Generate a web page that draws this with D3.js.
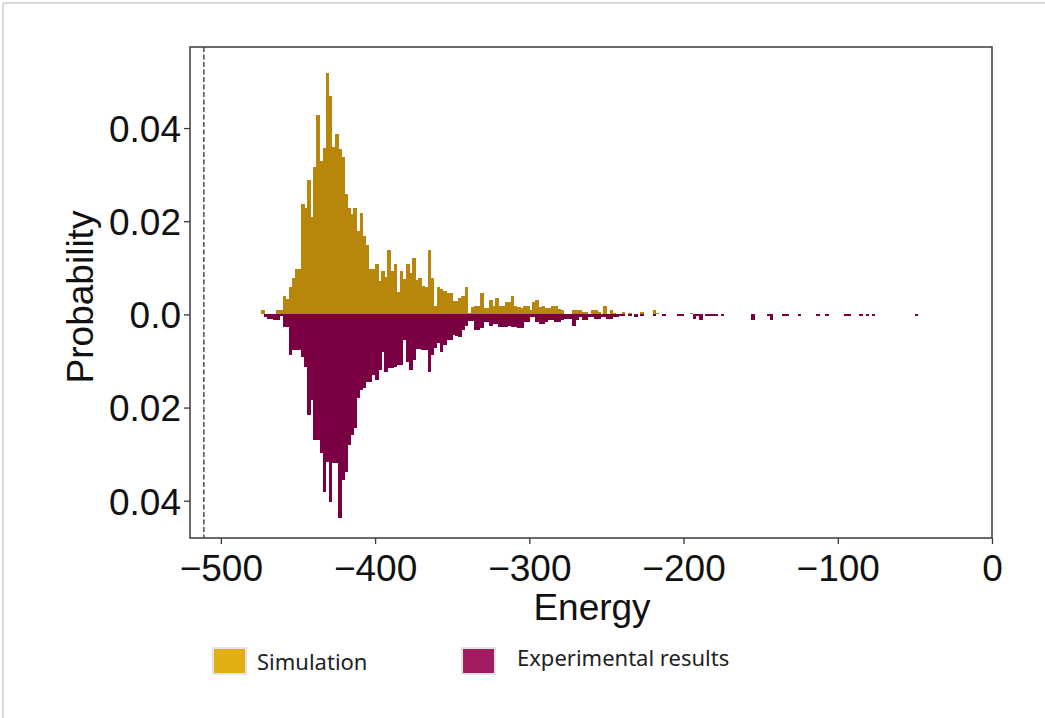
<!DOCTYPE html>
<html>
<head>
<meta charset="utf-8">
<script src="https://cdn.jsdelivr.net/npm/d3@7"></script>
<style>
  body { margin: 0; background: #fff; }
  .tick-label { font-family: "Liberation Sans", Arial, sans-serif; font-size: 37px; fill: #111; }
  .axis-title { font-family: "Liberation Sans", Arial, sans-serif; font-size: 37px; fill: #111; }
  .legend { font-family: "Noto Sans", sans-serif; font-size: 22px; fill: #222; }
</style>
</head>
<body>
<svg id="chart" width="1045" height="718"></svg>
<script>
// histogram bins: left edge of first bin and bin width (energy units)
const binStart = -476
const binWidth = 2

// probability per bin, simulation (plotted upwards)
const simulation = [
  0, 0.0009, 0, 0, 0, 0, 0.0010, 0.0010, 0.0039, 0.0034,
  0.0058, 0.0079, 0.0098, 0.0098, 0.0237, 0.0229, 0.0289, 0.0210, 0.0317, 0.0428,
  0.0329, 0.0357, 0.0518, 0.0468, 0.0359, 0.0387, 0.0355, 0.0338, 0.0259, 0.0229,
  0.0216, 0.0229, 0.0180, 0.0218, 0.0169, 0.0148, 0.0098, 0.0098, 0.0109, 0.0071,
  0.0094, 0.0081, 0.0139, 0.0094, 0.0109, 0.0049, 0.0094, 0.0075, 0.0109, 0.0088,
  0.0120, 0.0073, 0.0079, 0.0062, 0.0058, 0.0139, 0.0079, 0.0017, 0.0058, 0.0055,
  0.0050, 0.0047, 0.0045, 0.0028, 0.0028, 0.0036, 0.0039, 0.0058, 0.0003, 0.0015,
  0.0019, 0.0019, 0.0047, 0.0013, 0.0013, 0.0030, 0.0019, 0.0036, 0.0019, 0.0017,
  0.0026, 0.0026, 0.0039, 0.0019, 0.0015, 0.0013, 0.0017, 0.0017, 0.0009, 0.0026,
  0.0030, 0.0015, 0.0019, 0.0013, 0.0013, 0.0019, 0.0019, 0.0011, 0.0009, 0,
  0, 0, 0.0009, 0.0009, 0.0009, 0.0006, 0.0006, 0, 0.0009, 0.0009,
  0.0006, 0, 0.0019, 0, 0.0009, 0.0004, 0, 0, 0.0006, 0,
  0.0003, 0, 0, 0, 0.0006, 0, 0, 0, 0.0009, 0.0003,
  0, 0, 0, 0, 0, 0, 0, 0, 0, 0, 0.0004
]

// probability per bin, experimental results (plotted downwards)
const experimental = [
  0, 0, 0.0006, 0.0009, 0.0009, 0.0013, 0.0013, 0.0003, 0.0028, 0.0028,
  0.0088, 0.0077, 0.0077, 0.0077, 0.0092, 0.0113, 0.0216, 0.0184, 0.0270, 0.0270,
  0.0297, 0.0381, 0.0317, 0.0402, 0.0319, 0.0319, 0.0436, 0.0355, 0.0338, 0.0280,
  0.0259, 0.0244, 0.0180, 0.0163, 0.0158, 0.0145, 0.0145, 0.0130, 0.0141, 0.0120,
  0.0081, 0.0124, 0.0116, 0.0116, 0.0113, 0.0109, 0.0109, 0.0056, 0.0103, 0.0120,
  0.0098, 0.0075, 0.0075, 0.0077, 0.0077, 0.0124, 0.0088, 0.0073, 0.0062, 0.0080,
  0.0065, 0.0056, 0.0054, 0.0045, 0.0047, 0.0048, 0.0034, 0.0024, 0.0015, 0.0015,
  0.0034, 0.0034, 0.0030, 0.0017, 0.0017, 0.0024, 0.0020, 0.0020, 0.0027, 0.0027,
  0.0027, 0.0024, 0.0027, 0.0027, 0.0030, 0.0030, 0.0017, 0.0017, 0.0006, 0.0006,
  0.0017, 0.0020, 0.0020, 0.0017, 0.0013, 0.0013, 0.0017, 0.0017, 0.0013, 0.0009,
  0.0009, 0.0009, 0.0024, 0.0013, 0.0006, 0.0013, 0.0013, 0.0006, 0.0006, 0.0009,
  0.0009, 0.0006, 0.0006, 0.0009, 0.0009, 0.0006, 0.0006, 0.0004, 0.0004, 0,
  0.0004, 0, 0.0006, 0, 0.0004, 0, 0, 0, 0.0004, 0,
  0, 0.0004, 0, 0, 0, 0, 0.0004, 0.0004, 0, 0,
  0, 0.0009, 0.0004, 0.0011, 0, 0.0004, 0.0004, 0.0004, 0.0004, 0,
  0.0004, 0, 0, 0, 0, 0, 0, 0, 0, 0,
  0.0013, 0, 0, 0, 0, 0.0004, 0.0013, 0, 0, 0,
  0.0004, 0.0004, 0, 0, 0, 0.0004, 0, 0, 0, 0,
  0, 0.0004, 0, 0, 0.0004, 0, 0, 0, 0, 0,
  0.0004, 0.0004, 0, 0, 0, 0.0004, 0, 0.0004, 0, 0.0004,
  0, 0, 0, 0, 0, 0, 0, 0, 0, 0,
  0, 0, 0, 0.0004
]

const refEnergy = -511          // dashed reference line
const xTicks = [-500, -400, -300, -200, -100, 0]
const yTicks = [0.04, 0.02, 0, -0.02, -0.04]
const legendItems = ["Simulation", "Experimental results"]
const legendColors = ["#e3ae12", "#a21c60"]

const simColor = "#b8860b"
const expColor = "#7a0043"

let svg = d3.select("#chart")

// light page frame (top/left edge of the original screenshot)
svg.append("line").attr("x1", 3).attr("y1", 3).attr("x2", 1045).attr("y2", 3)
   .attr("stroke", "#d8d8d8").attr("stroke-width", 2)
svg.append("line").attr("x1", 3).attr("y1", 3).attr("x2", 3).attr("y2", 718)
   .attr("stroke", "#d8d8d8").attr("stroke-width", 2)

let plotLeft = 190, plotRight = 992, plotTop = 47, plotBottom = 538

let xScale = d3.scaleLinear().domain([-520, 0]).range([plotLeft, plotRight])
let yScale = d3.scaleLinear().domain([-0.048, 0.0574]).range([plotBottom, plotTop])

function binData(values) {
    return values.map(function (v, i) {
        return {x0: binStart + i * binWidth, x1: binStart + (i + 1) * binWidth, v: v}
    }).filter(function (d) { return d.v > 0 })
}

let plot = svg.append("g").attr("shape-rendering", "crispEdges")

// simulation bars, above zero
plot.selectAll(".sim")
    .data(binData(simulation))
    .enter()
    .append("rect")
    .attr("class", "sim")
    .attr("x", function (d) { return xScale(d.x0) })
    .attr("width", function (d) { return xScale(d.x1) - xScale(d.x0) + 0.5 })
    .attr("y", function (d) { return yScale(d.v) })
    .attr("height", function (d) { return yScale(0) - yScale(d.v) })
    .attr("fill", simColor)

// experimental bars, mirrored below zero
plot.selectAll(".exp")
    .data(binData(experimental))
    .enter()
    .append("rect")
    .attr("class", "exp")
    .attr("x", function (d) { return xScale(d.x0) })
    .attr("width", function (d) { return xScale(d.x1) - xScale(d.x0) + 0.5 })
    .attr("y", yScale(0))
    .attr("height", function (d) { return yScale(-d.v) - yScale(0) })
    .attr("fill", expColor)

// dashed reference line
svg.append("line")
    .attr("x1", xScale(refEnergy)).attr("x2", xScale(refEnergy))
    .attr("y1", plotTop).attr("y2", plotBottom)
    .attr("stroke", "#222").attr("stroke-width", 1.2)
    .attr("stroke-dasharray", "5,2.5")

// frame
svg.append("rect")
    .attr("x", plotLeft).attr("y", plotTop)
    .attr("width", plotRight - plotLeft).attr("height", plotBottom - plotTop)
    .attr("fill", "none").attr("stroke", "#3a3a3a").attr("stroke-width", 1.5)

// x axis
let x_axis = d3.axisBottom(xScale).tickValues(xTicks).tickSize(6)
    .tickFormat(function (d) { return d < 0 ? "\u2212" + Math.abs(d) : d })
let gx = svg.append("g").attr("transform", `translate(0,${plotBottom})`).call(x_axis)
gx.attr("font-size", null).attr("font-family", null)
gx.select(".domain").remove()
gx.selectAll("line").attr("stroke", "#3a3a3a").attr("stroke-width", 1.3)
gx.selectAll("text").attr("class", "tick-label").attr("y", 43).attr("dy", null).attr("fill", null)

// y axis, shown as absolute probability on both sides
let y_axis = d3.axisLeft(yScale).tickValues(yTicks).tickSize(6)
    .tickFormat(function (d) { return d === 0 ? "0.0" : Math.abs(d).toFixed(2) })
let gy = svg.append("g").attr("transform", `translate(${plotLeft},0)`).call(y_axis)
gy.attr("font-size", null).attr("font-family", null)
gy.select(".domain").remove()
gy.selectAll("line").attr("stroke", "#3a3a3a").attr("stroke-width", 1.3)
gy.selectAll("text").attr("class", "tick-label").attr("x", -9).attr("dy", "0.36em").attr("fill", null)

// labels
svg.append("text").attr("class", "axis-title")
    .attr("x", 592).attr("y", 620).attr("text-anchor", "middle").text("Energy")
svg.append("g").attr("transform", "translate(93,297) rotate(-90)")
    .append("text").attr("class", "axis-title")
    .attr("text-anchor", "middle").text("Probability")

// legend
let legendX = [213, 462]
legendItems.forEach(function (d, i) {
    let lg = svg.append("g").attr("transform", `translate(${legendX[i]},648)`)
    lg.append("rect").attr("width", 33).attr("height", 26)
      .attr("fill", legendColors[i]).attr("stroke", "#e4e4e4").attr("stroke-width", 2)
    lg.append("text").attr("class", "legend")
      .attr("x", i === 0 ? 44 : 55).attr("y", i === 0 ? 22 : 18).text(d)
})
</script>
</body>
</html>
